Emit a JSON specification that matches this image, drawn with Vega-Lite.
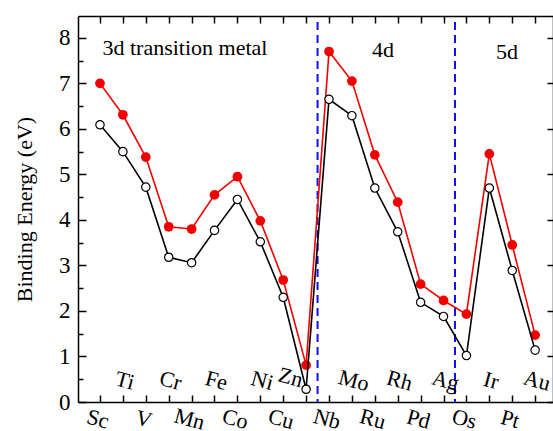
{
  "$schema": "https://vega.github.io/schema/vega-lite/v6.json",
  "width": 475,
  "height": 386,
  "autosize": "none",
  "padding": {"left": 78, "top": 16, "right": 0, "bottom": 29},
  "background": "white",
  "config": {"view": {"stroke": null}, "font": "Liberation Serif", "text": {"font": "Liberation Serif"},
    "axis": {"titleFont": "Liberation Serif", "labelFont": "Liberation Serif"}},
  "data": {"values": [
    {"el": "Sc", "i": 0, "red": 7.00, "black": 6.09},
    {"el": "Ti", "i": 1, "red": 6.31, "black": 5.50},
    {"el": "V", "i": 2, "red": 5.38, "black": 4.72},
    {"el": "Cr", "i": 3, "red": 3.85, "black": 3.18},
    {"el": "Mn", "i": 4, "red": 3.80, "black": 3.06},
    {"el": "Fe", "i": 5, "red": 4.55, "black": 3.77},
    {"el": "Co", "i": 6, "red": 4.95, "black": 4.45},
    {"el": "Ni", "i": 7, "red": 3.98, "black": 3.52},
    {"el": "Cu", "i": 8, "red": 2.68, "black": 2.30},
    {"el": "Zn", "i": 9, "red": 0.81, "black": 0.28},
    {"el": "Nb", "i": 10, "red": 7.70, "black": 6.65},
    {"el": "Mo", "i": 11, "red": 7.05, "black": 6.29},
    {"el": "Ru", "i": 12, "red": 5.43, "black": 4.70},
    {"el": "Rh", "i": 13, "red": 4.39, "black": 3.74},
    {"el": "Pd", "i": 14, "red": 2.59, "black": 2.19},
    {"el": "Ag", "i": 15, "red": 2.23, "black": 1.88},
    {"el": "Os", "i": 16, "red": 1.93, "black": 1.02},
    {"el": "Ir", "i": 17, "red": 5.45, "black": 4.70},
    {"el": "Pt", "i": 18, "red": 3.45, "black": 2.89},
    {"el": "Au", "i": 19, "red": 1.47, "black": 1.14}
  ]},
  "layer": [
    {
      "data": {"values": [{"b": 9.5}, {"b": 15.5}]},
      "mark": {"type": "rule", "color": "#1010e8", "strokeWidth": 2, "strokeDash": [8, 5], "y": 6},
      "encoding": {
        "x": {"field": "b", "type": "quantitative", "scale": {"domain": [-0.96, 19.78], "nice": false, "zero": false}, "axis": null},
        "y2": {"value": 386}
      }
    },
    {
      "mark": {"type": "line", "color": "#f20000", "strokeWidth": 1.6},
      "encoding": {
        "x": {"field": "i", "type": "quantitative", "scale": {"domain": [-0.96, 19.78], "nice": false, "zero": false},
          "axis": {"orient": "bottom", "title": null, "values": [0,1,2,3,4,5,6,7,8,9,10,11,12,13,14,15,16,17,18,19],
            "labelExpr": "['Sc','','V','','Mn','','Co','','Cu','','Nb','','Ru','','Pd','','Os','','Pt',''][datum.value]",
            "labelAngle": 15, "labelAlign": "center", "labelBaseline": "top", "labelFontSize": 22, "labelColor": "black",
            "labelPadding": 14, "labelFont": "Liberation Serif", "labelOverlap": false,
            "tickSize": -7, "tickWidth": 1.5, "tickColor": "black", "domainColor": "black", "domainWidth": 1.5, "grid": false}},
        "y": {"field": "red", "type": "quantitative", "scale": {"domain": [0, 8.48], "nice": false, "zero": false},
          "axis": {"orient": "left", "title": "Binding Energy (eV)", "titleFontSize": 22, "titleFontWeight": "normal", "titleColor": "black",
            "titleFont": "Liberation Serif", "titlePadding": 22,
            "values": [0,0.5,1,1.5,2,2.5,3,3.5,4,4.5,5,5.5,6,6.5,7,7.5,8],
            "format": ".0f",
            "labelExpr": "datum.value % 1 === 0 ? datum.label : ''",
            "labelFontSize": 23, "labelColor": "black", "labelFont": "Liberation Serif", "labelPadding": 16,
            "tickSize": {"condition": {"test": "datum.value % 1 !== 0", "value": -5}, "value": -8},
            "tickWidth": 1.5, "tickColor": "black", "domainColor": "black", "domainWidth": 1.5, "grid": false}}
      }
    },
    {
      "mark": {"type": "point", "shape": "circle", "filled": true, "color": "#f20000", "size": 95, "opacity": 1},
      "encoding": {
        "x": {"field": "i", "type": "quantitative", "axis": null},
        "y": {"field": "red", "type": "quantitative", "axis": null}
      }
    },
    {
      "mark": {"type": "line", "color": "black", "strokeWidth": 1.6},
      "encoding": {
        "x": {"field": "i", "type": "quantitative",
          "axis": {"orient": "top", "title": null, "labels": false, "values": [0,1,2,3,4,5,6,7,8,9,10,11,12,13,14,15,16,17,18,19],
            "tickSize": -7, "tickWidth": 1.5, "tickColor": "black", "domainColor": "black", "domainWidth": 1.5, "grid": false}},
        "y": {"field": "black", "type": "quantitative",
          "axis": {"orient": "right", "title": null, "labels": false, "values": [0,1,2,3,4,5,6,7,8],
            "tickSize": -6, "tickWidth": 1.5, "tickColor": "black", "domainColor": "black", "domainWidth": 1.5, "grid": false}}
      }
    },
    {
      "mark": {"type": "point", "shape": "circle", "filled": true, "fill": "white", "stroke": "black", "strokeWidth": 1.2, "size": 70, "opacity": 1},
      "encoding": {
        "x": {"field": "i", "type": "quantitative", "axis": null},
        "y": {"field": "black", "type": "quantitative", "axis": null}
      }
    },
    {
      "transform": [{"filter": "datum.i % 2 === 1 && datum.el !== 'Zn'"}],
      "mark": {"type": "text", "fontSize": 22, "font": "Liberation Serif", "angle": 15, "align": "center", "baseline": "middle", "color": "black", "dx": 2},
      "encoding": {
        "x": {"field": "i", "type": "quantitative", "axis": null},
        "y": {"datum": 0.48, "type": "quantitative", "axis": null},
        "text": {"field": "el"}
      }
    },
    {
      "transform": [{"filter": "datum.el === 'Zn'"}],
      "mark": {"type": "text", "fontSize": 22, "font": "Liberation Serif", "angle": 15, "align": "center", "baseline": "middle", "color": "black", "dx": -16},
      "encoding": {
        "x": {"field": "i", "type": "quantitative", "axis": null},
        "y": {"datum": 0.45, "type": "quantitative", "axis": null},
        "text": {"field": "el"}
      }
    },
    {
      "data": {"values": [{}]},
      "mark": {"type": "text", "text": "3d transition metal", "font": "Liberation Serif", "fontSize": 22, "fontWeight": "normal", "align": "center", "baseline": "middle", "color": "black"},
      "encoding": {
        "x": {"datum": 3.71, "type": "quantitative", "axis": null},
        "y": {"datum": 7.78, "type": "quantitative", "axis": null}
      }
    },
    {
      "data": {"values": [{}]},
      "mark": {"type": "text", "text": "4d", "font": "Liberation Serif", "fontSize": 22, "fontWeight": "normal", "align": "center", "baseline": "middle", "color": "black"},
      "encoding": {
        "x": {"datum": 12.36, "type": "quantitative", "axis": null},
        "y": {"datum": 7.74, "type": "quantitative", "axis": null}
      }
    },
    {
      "data": {"values": [{}]},
      "mark": {"type": "text", "text": "5d", "font": "Liberation Serif", "fontSize": 22, "fontWeight": "normal", "align": "center", "baseline": "middle", "color": "black"},
      "encoding": {
        "x": {"datum": 17.77, "type": "quantitative", "axis": null},
        "y": {"datum": 7.69, "type": "quantitative", "axis": null}
      }
    }
  ],
  "resolve": {"axis": {"x": "independent", "y": "independent"}}
}
